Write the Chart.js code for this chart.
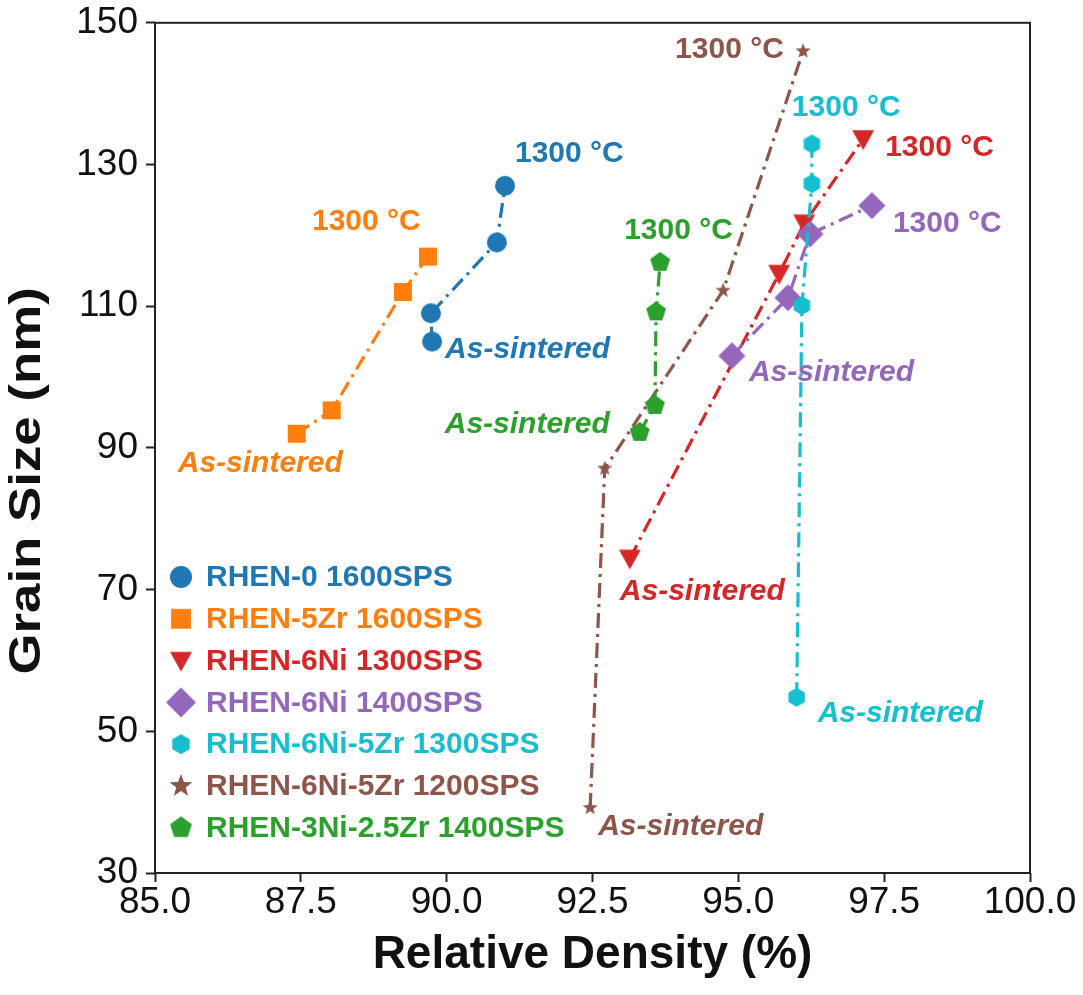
<!DOCTYPE html>
<html>
<head>
<meta charset="utf-8">
<title>Grain Size vs Relative Density</title>
<script src="https://cdn.jsdelivr.net/npm/chart.js"></script>
<style>
  html, body { margin: 0; padding: 0; background: #fff; }
</style>
</head>
<body>
<canvas id="grainChart" width="1083" height="995"></canvas>
<script>
    // series (as-sintered point first, 1300 °C anneal last)
    const seriesNames = [
        'RHEN-0 1600SPS', 'RHEN-5Zr 1600SPS', 'RHEN-6Ni 1300SPS', 'RHEN-6Ni 1400SPS',
        'RHEN-6Ni-5Zr 1300SPS', 'RHEN-6Ni-5Zr 1200SPS', 'RHEN-3Ni-2.5Zr 1400SPS'
    ];
    const rhen0Density = [89.75, 89.73, 90.86, 91.0];
    const rhen0Grain = [105, 109, 119, 127];
    const rhen5ZrDensity = [87.43, 88.03, 89.25, 89.68];
    const rhen5ZrGrain = [92, 95.3, 112, 117];
    const rhen6Ni1300Density = [93.14, 95.7, 96.13, 97.14];
    const rhen6Ni1300Grain = [74.4, 114.6, 121.7, 133.6];
    const rhen6Ni1400Density = [94.89, 95.85, 96.23, 97.29];
    const rhen6Ni1400Grain = [103, 111.2, 120.2, 124.2];
    const rhen6Ni5Zr1300Density = [96.0, 96.09, 96.26, 96.26];
    const rhen6Ni5Zr1300Grain = [54.8, 110.1, 127.3, 132.9];
    const rhen6Ni5Zr1200Density = [92.46, 92.71, 94.74, 96.11];
    const rhen6Ni5Zr1200Grain = [39.2, 87.1, 112.2, 146.0];
    const rhen3Ni25ZrDensity = [93.31, 93.57, 93.59, 93.66];
    const rhen3Ni25ZrGrain = [92.2, 96.0, 109.2, 116.2];

    const xTicks = [85, 87.5, 90, 92.5, 95, 97.5, 100];
    const yTicks = [30, 50, 70, 90, 110, 130, 150];
    const hotLabel = '1300 °C';
    const coldLabel = 'As-sintered';
    const yTitle = 'Grain Size (nm)';

    const densities = [rhen0Density, rhen5ZrDensity, rhen6Ni1300Density, rhen6Ni1400Density,
        rhen6Ni5Zr1300Density, rhen6Ni5Zr1200Density, rhen3Ni25ZrDensity];
    const grains = [rhen0Grain, rhen5ZrGrain, rhen6Ni1300Grain, rhen6Ni1400Grain,
        rhen6Ni5Zr1300Grain, rhen6Ni5Zr1200Grain, rhen3Ni25ZrGrain];

    // styling
    const colors = ['#1f77b4', '#ff7f0e', '#d62728', '#9467bd', '#17becf', '#8c564b', '#2ca02c'];
    const shapes = ['circle', 'square', 'triDown', 'diamond', 'hexagon', 'star', 'pentagon'];
    const plotSizes = [20, 20, 22, 27, 19, 16, 21];
    const legendSizes = [22, 22, 22, 30, 20, 24, 23];
    // label offsets in px from the last (1300 °C) and first (as-sintered) point
    const hotOffsets = [[10, -32], [-116, -35], [22, 9], [21, 18], [-20, -36], [-128, -1], [-36, -32]];
    const coldOffsets = [[13, 8], [-119, 30], [-10, 33], [17, 17], [21, 16], [8, 19], [-195, -8]];

    const FONT = "'Liberation Sans', Arial, sans-serif";

    function makeMarker(shape, size, color) {
        const c = document.createElement('canvas');
        c.width = size + 4;
        c.height = size + 4;
        const g = c.getContext('2d');
        const cx = c.width / 2, cy = c.height / 2, r = size / 2;
        g.fillStyle = color;
        g.beginPath();
        const poly = (n, rot, rr) => {
            for (let k = 0; k < n; k++) {
                const a = rot + k * 2 * Math.PI / n;
                const px = cx + rr * Math.cos(a), py = cy + rr * Math.sin(a);
                k ? g.lineTo(px, py) : g.moveTo(px, py);
            }
            g.closePath();
        };
        if (shape === 'circle') {
            g.arc(cx, cy, r, 0, Math.PI * 2);
        } else if (shape === 'square') {
            g.rect(cx - r * 0.9, cy - r * 0.9, r * 1.8, r * 1.8);
        } else if (shape === 'triDown') {
            g.moveTo(cx - r, cy - r * 0.8);
            g.lineTo(cx + r, cy - r * 0.8);
            g.lineTo(cx, cy + r);
            g.closePath();
        } else if (shape === 'diamond') {
            poly(4, -Math.PI / 2, r);
        } else if (shape === 'hexagon') {
            poly(6, -Math.PI / 2, r);
        } else if (shape === 'pentagon') {
            poly(5, -Math.PI / 2, r);
        } else if (shape === 'star') {
            for (let k = 0; k < 10; k++) {
                const a = -Math.PI / 2 + k * Math.PI / 5;
                const rr = k % 2 ? r * 0.42 : r;
                const px = cx + rr * Math.cos(a), py = cy + rr * Math.sin(a);
                k ? g.lineTo(px, py) : g.moveTo(px, py);
            }
            g.closePath();
        }
        g.fill();
        return c;
    }

    const plotMarkers = shapes.map((s, i) => makeMarker(s, plotSizes[i], colors[i]));
    const legendMarkers = shapes.map((s, i) => makeMarker(s, legendSizes[i], colors[i]));

    const datasets = seriesNames.map((name, i) => ({
        label: name,
        data: densities[i].map((x, j) => ({ x: x, y: grains[i][j] })),
        showLine: true,
        borderColor: colors[i],
        backgroundColor: colors[i],
        borderWidth: 3.2,
        borderDash: [15, 6, 3, 6],
        pointStyle: plotMarkers[i],
        pointRadius: 10,
        order: seriesNames.length - i
    }));

    // frame, y title, point labels and legend
    const decorations = {
        id: 'decorations',
        beforeDatasetsDraw(chart) {
            const a = chart.chartArea, ctx = chart.ctx;
            ctx.save();
            ctx.strokeStyle = '#222';
            ctx.lineWidth = 2;
            ctx.strokeRect(a.left, a.top, a.right - a.left, a.bottom - a.top);
            // y axis title, a little stretched along its length like the source
            ctx.translate(28, (a.top + a.bottom) / 2 + 33);
            ctx.rotate(-Math.PI / 2);
            ctx.scale(1.2, 1);
            ctx.font = 'bold 44px ' + FONT;
            ctx.fillStyle = '#111';
            ctx.textAlign = 'center';
            ctx.textBaseline = 'middle';
            ctx.fillText(yTitle, 0, 0);
            ctx.restore();
        },
        afterDatasetsDraw(chart) {
            const ctx = chart.ctx, xs = chart.scales.x, ys = chart.scales.y, a = chart.chartArea;
            ctx.save();
            ctx.textBaseline = 'middle';
            ctx.textAlign = 'left';
            seriesNames.forEach((name, i) => {
                const n = densities[i].length;
                const hx = xs.getPixelForValue(densities[i][n - 1]);
                const hy = ys.getPixelForValue(grains[i][n - 1]);
                const cx = xs.getPixelForValue(densities[i][0]);
                const cy = ys.getPixelForValue(grains[i][0]);
                ctx.fillStyle = colors[i];
                ctx.font = 'bold 30px ' + FONT;
                ctx.fillText(hotLabel, hx + hotOffsets[i][0], hy + hotOffsets[i][1]);
                ctx.font = 'italic bold 30px ' + FONT;
                ctx.fillText(coldLabel, cx + coldOffsets[i][0], cy + coldOffsets[i][1]);
            });
            // legend, lower left inside the axes
            ctx.font = 'bold 30px ' + FONT;
            seriesNames.forEach((name, i) => {
                const rowY = a.bottom - 296 + i * 41.8;
                const m = legendMarkers[i];
                ctx.drawImage(m, a.left + 26 - m.width / 2, rowY - m.height / 2);
                ctx.fillStyle = colors[i];
                ctx.fillText(name, a.left + 51, rowY + 1);
            });
            ctx.restore();
        }
    };

    const tickFont = { family: FONT, size: 37, lineHeight: 0.8 };
    const titleFont = { family: FONT, size: 46, weight: 'bold' };

    new Chart(document.getElementById('grainChart'), {
        type: 'scatter',
        data: { datasets: datasets },
        options: {
            responsive: false,
            animation: false,
            layout: { padding: { left: 0, right: 53, top: 22, bottom: 0 } },
            plugins: { legend: { display: false }, tooltip: { enabled: false } },
            scales: {
                x: {
                    type: 'linear',
                    min: 85, max: 100,
                    afterBuildTicks: s => { s.ticks = xTicks.map(v => ({ value: v })); },
                    afterFit: s => { s.height = 122; },
                    ticks: { font: tickFont, color: '#111', padding: 6, callback: v => v.toFixed(1), maxRotation: 0 },
                    grid: { display: true, drawOnChartArea: false, tickLength: 9, tickWidth: 2, tickColor: '#222' },
                    border: { display: false },
                    title: { display: true, text: 'Relative Density (%)', font: titleFont, color: '#111', padding: { top: 0, bottom: 12 } }
                },
                y: {
                    type: 'linear',
                    min: 30, max: 150,
                    afterBuildTicks: s => { s.ticks = yTicks.map(v => ({ value: v })); },
                    afterFit: s => { s.width = 155; },
                    ticks: { font: tickFont, color: '#111', padding: 8 },
                    grid: { display: true, drawOnChartArea: false, tickLength: 9, tickWidth: 2, tickColor: '#222' },
                    border: { display: false },
                    title: { display: false }
                }
            }
        },
        plugins: [decorations]
    });
</script>
</body>
</html>
